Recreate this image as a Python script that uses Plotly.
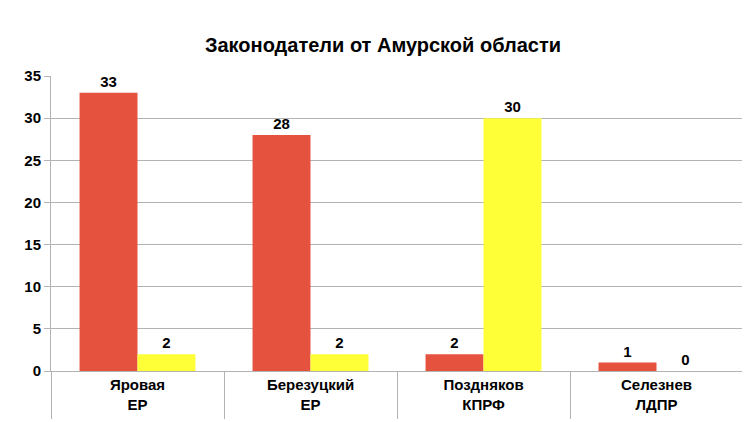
import plotly.graph_objects as go

categories = ["<b>Яровая<br>ЕР</b>", "<b>Березуцкий<br>ЕР</b>", "<b>Поздняков<br>КПРФ</b>", "<b>Селезнев<br>ЛДПР</b>"]
series_a = [33, 28, 2, 1]
series_b = [2, 2, 30, 0]

fig = go.Figure()
fig.add_bar(x=categories, y=series_a, marker_color="#e5533f",
            text=[f"<b>{v}</b>" for v in series_a], textposition="outside", cliponaxis=False)
fig.add_bar(x=categories, y=series_b, marker_color="#ffff38",
            text=[f"<b>{v}</b>" for v in series_b], textposition="outside", cliponaxis=False)
fig.update_traces(textfont=dict(family="Liberation Sans", size=15, color="#000"),
                  marker_line_width=0)
fig.update_layout(
    width=750, height=422, showlegend=False, plot_bgcolor="white", paper_bgcolor="white",
    barmode="group", bargap=0.33, bargroupgap=0,
    margin=dict(l=43, r=15, t=68, b=59, pad=0),
    title=dict(text="<b>Законодатели от Амурской области</b>", x=0.5, y=0.93,
               font=dict(family="Liberation Sans", size=20, color="#000")),
    font=dict(family="Liberation Sans", size=14, color="#000"),
)
fig.update_yaxes(range=[0, 35], dtick=5, gridcolor="#b3b3b3", showline=True,
                 linecolor="#b3b3b3", ticks="outside", ticklen=6, tickcolor="#b3b3b3",
                 tickfont=dict(size=15), zeroline=False, automargin=False,
                 tickprefix="<b>", ticksuffix="</b>")
fig.update_xaxes(showline=True, linecolor="#b3b3b3", ticks="outside", tickson="boundaries",
                 ticklen=47, tickcolor="#b3b3b3", tickfont=dict(size=15), automargin=False)
fig.write_html("out.html")
